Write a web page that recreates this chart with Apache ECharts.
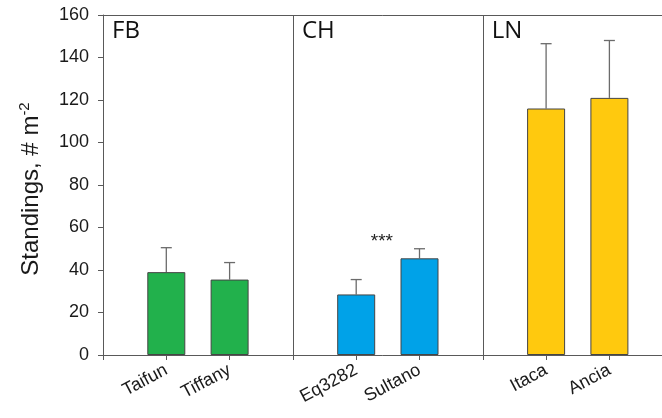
<!DOCTYPE html>
<html>
<head>
<meta charset="utf-8">
<script src="https://cdn.jsdelivr.net/npm/echarts@6/dist/echarts.min.js"></script>
<style>
  html, body { margin: 0; padding: 0; background: #fff; }
  #chart { width: 662px; height: 418px; }
</style>
</head>
<body>
<div id="chart"></div>
<script>
// Crop groups and their varieties (one empty slot separates each group)
const groups = ['FB', 'CH', 'LN'];
const varieties = [
  ['Taifun', 'Tiffany'],
  ['Eq3282', 'Sultano'],
  ['Itaca', 'Ancia']
];
// Mean standings (# m-2) and standard deviation per variety
const means = [
  [39, 35.5],
  [28.5, 45.5],
  [116, 121]
];
const sds = [
  [11.5, 8],
  [7, 4.5],
  [30.5, 27]
];
const groupColors = ['#22B14C', '#00A2E8', '#FFC90E'];
const yTicks = [0, 20, 40, 60, 80, 100, 120, 140, 160];
const signifLabel = '***';
const yTitle = 'Standings, # m';
const yTitleSup = '-2';

// Build the slot list: a gap slot before each group and one at the far end
const categories = [];
const barData = [];
const errData = [];
const sepIndex = [];
groups.forEach((g, gi) => {
  const gapName = ' '.repeat(gi + 1);
  if (gi > 0) sepIndex.push(categories.length);
  categories.push(gapName);
  barData.push('-');
  varieties[gi].forEach((v, vi) => {
    const idx = categories.length;
    categories.push(v);
    barData.push({ value: means[gi][vi], itemStyle: { color: groupColors[gi] } });
    errData.push([idx, means[gi][vi], means[gi][vi] + sds[gi][vi]]);
  });
});
categories.push(' '.repeat(groups.length + 1));
barData.push('-');
const groupStart = [0].concat(sepIndex);

const axisGrey = '#595959';
const chart = echarts.init(document.getElementById('chart'));

chart.setOption({
  animation: false,
  grid: { left: 103, top: 15, bottom: 63, right: -10.7, containLabel: false, outerBoundsMode: 'none' },
  xAxis: [{
    type: 'category',
    data: categories,
    boundaryGap: false,
    axisLine: { lineStyle: { color: axisGrey, width: 1 } },
    axisTick: { show: true, length: 5, lineStyle: { color: axisGrey } },
    axisLabel: {
      rotate: 28, margin: 14, interval: 0, hideOverlap: false,
      fontFamily: 'Liberation Sans, Arial, sans-serif', fontSize: 18, color: '#1a1a1a'
    },
    splitLine: {
      show: true,
      interval: (index) => sepIndex.indexOf(index) >= 0,
      lineStyle: { color: axisGrey, width: 1 }
    }
  }, {
    type: 'category',
    data: categories,
    boundaryGap: false,
    position: 'top',
    axisLine: { lineStyle: { color: axisGrey, width: 1 } },
    axisTick: { show: false },
    axisLabel: { show: false }
  }],
  yAxis: {
    type: 'value',
    min: yTicks[0],
    max: yTicks[yTicks.length - 1],
    interval: yTicks[1] - yTicks[0],
    axisLine: { show: true, lineStyle: { color: axisGrey, width: 1 } },
    axisTick: { show: true, length: 5, lineStyle: { color: axisGrey } },
    axisLabel: {
      margin: 14,
      fontFamily: 'Liberation Sans, Arial, sans-serif', fontSize: 18, color: '#1a1a1a'
    },
    splitLine: { show: false }
  },
  series: [{
    type: 'bar',
    data: barData,
    barWidth: 38,
    itemStyle: { borderColor: '#454545', borderWidth: 1 },
    z: 3
  }, {
    type: 'custom',
    data: errData,
    z: 2,
    renderItem: (params, api) => {
      const base = api.coord([api.value(0), api.value(1)]);
      const top = api.coord([api.value(0), api.value(2)]);
      const cap = 5.5;
      const style = { stroke: '#6b6b6b', lineWidth: 1.3 };
      return {
        type: 'group',
        children: [
          { type: 'line', shape: { x1: top[0], y1: base[1], x2: top[0], y2: top[1] }, style },
          { type: 'line', shape: { x1: top[0] - cap, y1: top[1], x2: top[0] + cap, y2: top[1] }, style }
        ]
      };
    }
  }]
});

// Group names, the significance marker and the y-axis title
const graphics = [];
groups.forEach((g, gi) => {
  const p = chart.convertToPixel({ xAxisIndex: 0, yAxisIndex: 0 }, [groupStart[gi], yTicks[yTicks.length - 1]]);
  graphics.push({
    type: 'text',
    x: p[0] + 9,
    y: p[1] + 4,
    style: {
      text: g,
      fontFamily: 'Open Sans, Noto Sans, sans-serif',
      fontSize: 24,
      fill: '#111',
      textVerticalAlign: 'top'
    }
  });
});
const sIdx = categories.indexOf(varieties[1][0]);
const a = chart.convertToPixel({ xAxisIndex: 0, yAxisIndex: 0 }, [sIdx, 55]);
const b = chart.convertToPixel({ xAxisIndex: 0, yAxisIndex: 0 }, [sIdx + 1, 55]);
graphics.push({
  type: 'text',
  x: (a[0] + b[0]) / 2 - 6,
  y: a[1] + 4,
  style: {
    text: signifLabel,
    fontFamily: 'Liberation Sans, Arial, sans-serif',
    fontSize: 19,
    fill: '#222',
    textAlign: 'center',
    textVerticalAlign: 'middle'
  }
});
graphics.push({
  type: 'text',
  x: 31,
  y: 189,
  rotation: Math.PI / 2,
  style: {
    text: yTitle + '{sup|' + yTitleSup + '}',
    fontFamily: 'Liberation Sans, Arial, sans-serif',
    fontSize: 24,
    fill: '#1a1a1a',
    textAlign: 'center',
    textVerticalAlign: 'middle',
    rich: {
      sup: {
        fontFamily: 'Liberation Sans, Arial, sans-serif',
        fontSize: 15,
        fill: '#1a1a1a',
        padding: [0, 0, 13, 0]
      }
    }
  }
});
chart.setOption({ graphic: graphics });
</script>
</body>
</html>
